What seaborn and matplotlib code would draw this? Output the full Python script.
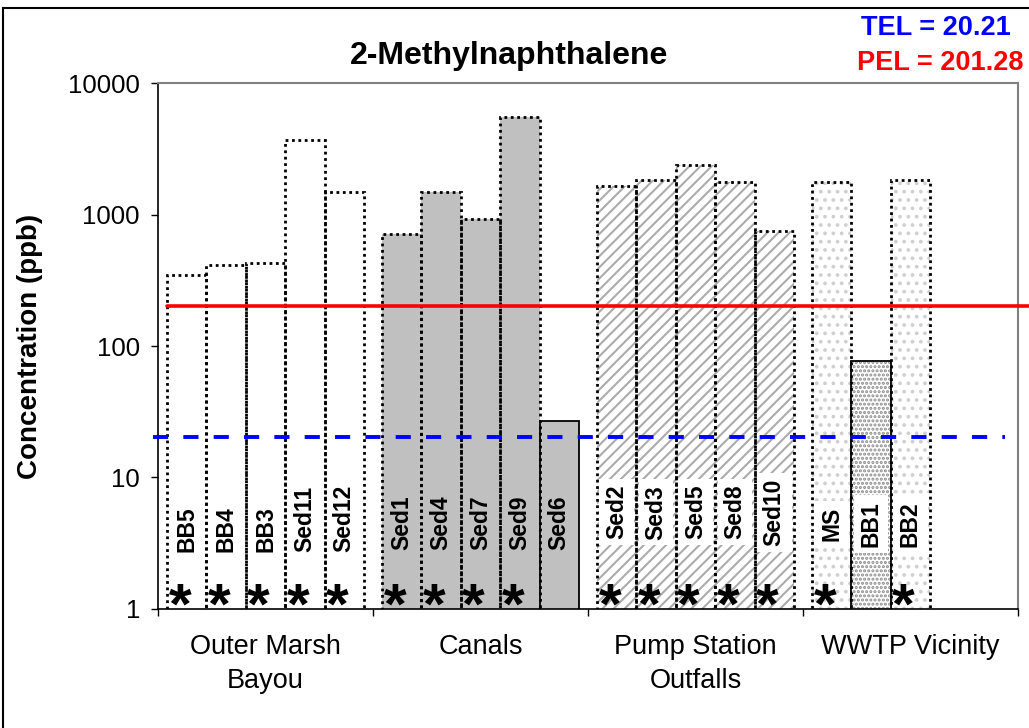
import numpy as np
import pandas as pd
import matplotlib
matplotlib.use("Agg")
import matplotlib.pyplot as plt
import seaborn as sns
from matplotlib.ticker import FixedLocator, NullLocator
from matplotlib.patches import Rectangle

# Data
GROUPS = ["Outer Marsh\nBayou", "Canals", "Pump Station\nOutfalls", "WWTP Vicinity"]
SITES = ["BB5", "BB4", "BB3", "Sed11", "Sed12",
         "Sed1", "Sed4", "Sed7", "Sed9", "Sed6",
         "Sed2", "Sed3", "Sed5", "Sed8", "Sed10",
         "MS", "BB1", "BB2"]
SITE_GROUP = [GROUPS[0]] * 5 + [GROUPS[1]] * 5 + [GROUPS[2]] * 5 + [GROUPS[3]] * 3
CONCENTRATION = [350, 415, 425, 3700, 1500,
                 710, 1500, 930, 5500, 27,
                 1650, 1830, 2400, 1760, 750,
                 1760, 77, 1830]
FLAGGED = [True, True, True, True, True,
           True, True, True, True, False,
           True, True, True, True, True,
           True, False, True]
TEL = 20.21
PEL = 201.28
Y_TICKS = [1, 10, 100, 1000, 10000]

W, H = 1029, 728
WIDTH = 0.916
N_SLOTS = 5

# fill style per group: (facecolor, hatch, hatch colour)
GROUP_FILL = {
    GROUPS[0]: ("white", None, "white"),
    GROUPS[1]: ("#C0C0C0", None, "#C0C0C0"),
    GROUPS[2]: ("white", "///", "#ABABAB"),
    GROUPS[3]: ("white", "..", "#D0D0D0"),
}
BB1_FILL = ("white", "....", "#8C8C8C")
# label anchor per group: (vertical alignment, offset above axis bottom in points)
LABEL_POS = {
    GROUPS[0]: ("bottom", 40.5),
    GROUPS[1]: ("bottom", 42.0),
    GROUPS[2]: ("center", 69.5),
    GROUPS[3]: ("center", 61.0),
}

sns.set_theme(style="white")
plt.rcParams["font.family"] = ["Liberation Sans", "DejaVu Sans"]
plt.rcParams["hatch.linewidth"] = 1.5
plt.rcParams["text.color"] = "black"
plt.rcParams["axes.labelcolor"] = "black"
plt.rcParams["xtick.color"] = "black"
plt.rcParams["ytick.color"] = "black"

df = pd.DataFrame({"site": SITES, "group": SITE_GROUP,
                   "ppb": CONCENTRATION, "flagged": FLAGGED})
df["slot"] = df.groupby("group").cumcount().astype(str)
df["center"] = [GROUPS.index(g) + (int(s) - (N_SLOTS - 1) / 2) * WIDTH / N_SLOTS
                for g, s in zip(df["group"], df["slot"])]

fig = plt.figure(figsize=(W / 100, H / 100), dpi=100)
ax = fig.add_axes([158 / W, (H - 608.7) / H, 860 / W, 525.4 / H])
ax.set_yscale("log")

hue_order = [str(i) for i in range(N_SLOTS)]
common = dict(data=df, x="group", y="ppb", hue="slot", order=GROUPS,
              hue_order=hue_order, width=WIDTH, dodge=True, legend=False,
              errorbar=None, ax=ax)

# layer 1: fills and hatches
sns.barplot(**common, palette={k: "white" for k in hue_order}, saturation=1)
n_fill = len(ax.patches)
# layer 2: outlines
sns.barplot(**common, palette={k: "black" for k in hue_order}, fill=False)


def row_for(patch):
    xc = patch.get_x() + patch.get_width() / 2
    return df.iloc[int(np.argmin(np.abs(df["center"].values - xc)))]


for i, p in enumerate(ax.patches):
    h = p.get_height()
    if not np.isfinite(h) or h <= 0:
        continue
    row = row_for(p)
    if i < n_fill:
        fc, hatch, hc = GROUP_FILL[row["group"]]
        if row["site"] == "BB1":
            fc, hatch, hc = BB1_FILL
        p.set_facecolor(fc)
        p.set_edgecolor(hc)
        p.set_hatch(hatch)
        p.set_linewidth(0)
    else:
        p.set_fill(False)
        p.set_edgecolor("black")
        if row["flagged"]:
            p.set_linestyle((0, (1, 1.3)))
            p.set_linewidth(2.0)
        else:
            p.set_linestyle("-")
            p.set_linewidth(1.3)

# guideline values
ax.axhline(PEL, xmin=(167 - 158) / 860, xmax=(1029 - 158) / 860,
           color="#FF0000", lw=2.6, clip_on=False, zorder=5)
ax.axhline(TEL, xmin=(152.7 - 158) / 860, xmax=(1005 - 158) / 860,
           color="#0000FF", lw=2.8, ls=(0, (3.9, 3.9)), clip_on=False, zorder=5)

# site labels and exceedance asterisks
for _, row in df.iterrows():
    va, off = LABEL_POS[row["group"]]
    boxed = row["group"] in (GROUPS[2], GROUPS[3])
    ax.annotate(row["site"], xy=(row["center"], 1), xytext=(0, off),
                textcoords="offset points", rotation=90, ha="center", va=va,
                fontsize=16.5, fontweight="bold", color="black", zorder=6,
                bbox=dict(boxstyle="square,pad=0.25", fc="white", ec="none") if boxed else None)
    if row["flagged"]:
        ax.annotate("*", xy=(row["center"], 1), xytext=(-5, -11),
                    textcoords="offset points", ha="center", va="baseline",
                    fontsize=42, fontweight="bold", color="black", zorder=6)

# axes styling
ax.set_ylim(1, 10000)
ax.set_xlim(-0.5, 3.5)
ax.yaxis.set_major_locator(FixedLocator(Y_TICKS))
ax.yaxis.set_minor_locator(NullLocator())
ax.set_yticklabels([str(t) for t in Y_TICKS])
ax.tick_params(axis="y", which="major", left=True, length=5, width=1,
               color="black", labelsize=18.5, pad=8, labelcolor="black")
ax.set_xticks(range(len(GROUPS)))
ax.set_xticklabels(GROUPS, fontsize=19.5, linespacing=1.4)
ax.set_xticks(np.arange(-0.5, len(GROUPS)), minor=True)
ax.tick_params(axis="x", which="major", bottom=True, length=0, pad=18, labelcolor="black")
ax.tick_params(axis="x", which="minor", bottom=True, length=5, width=1, color="black")
ax.set_xlabel("")
ax.set_ylabel("Concentration (ppb)", fontsize=20, fontweight="bold", color="black")
ax.yaxis.set_label_coords(-0.134, 0.5)

for side in ["left", "bottom"]:
    ax.spines[side].set_color("black")
    ax.spines[side].set_linewidth(1.2)
for side in ["top", "right"]:
    ax.spines[side].set_color("#808080")
    ax.spines[side].set_linewidth(1.5)

fig.text(509 / W, 1 - 56 / H, "2-Methylnaphthalene", ha="center", va="center",
         fontsize=23, fontweight="bold")
fig.text(861 / W, 1 - 28 / H, f"TEL = {TEL}", ha="left", va="center",
         fontsize=19.5, fontweight="bold", color="#0000FF")
fig.text(857 / W, 1 - 63 / H, f"PEL = {PEL}", ha="left", va="center",
         fontsize=19.5, fontweight="bold", color="#FF0000")

# chart-area border
fig.add_artist(Rectangle((3 / W, -0.01), 1.05, (H - 8) / H + 0.01,
                         transform=fig.transFigure, fill=False, lw=1.5,
                         ec="black"))

fig.savefig("out.png", dpi=100)
